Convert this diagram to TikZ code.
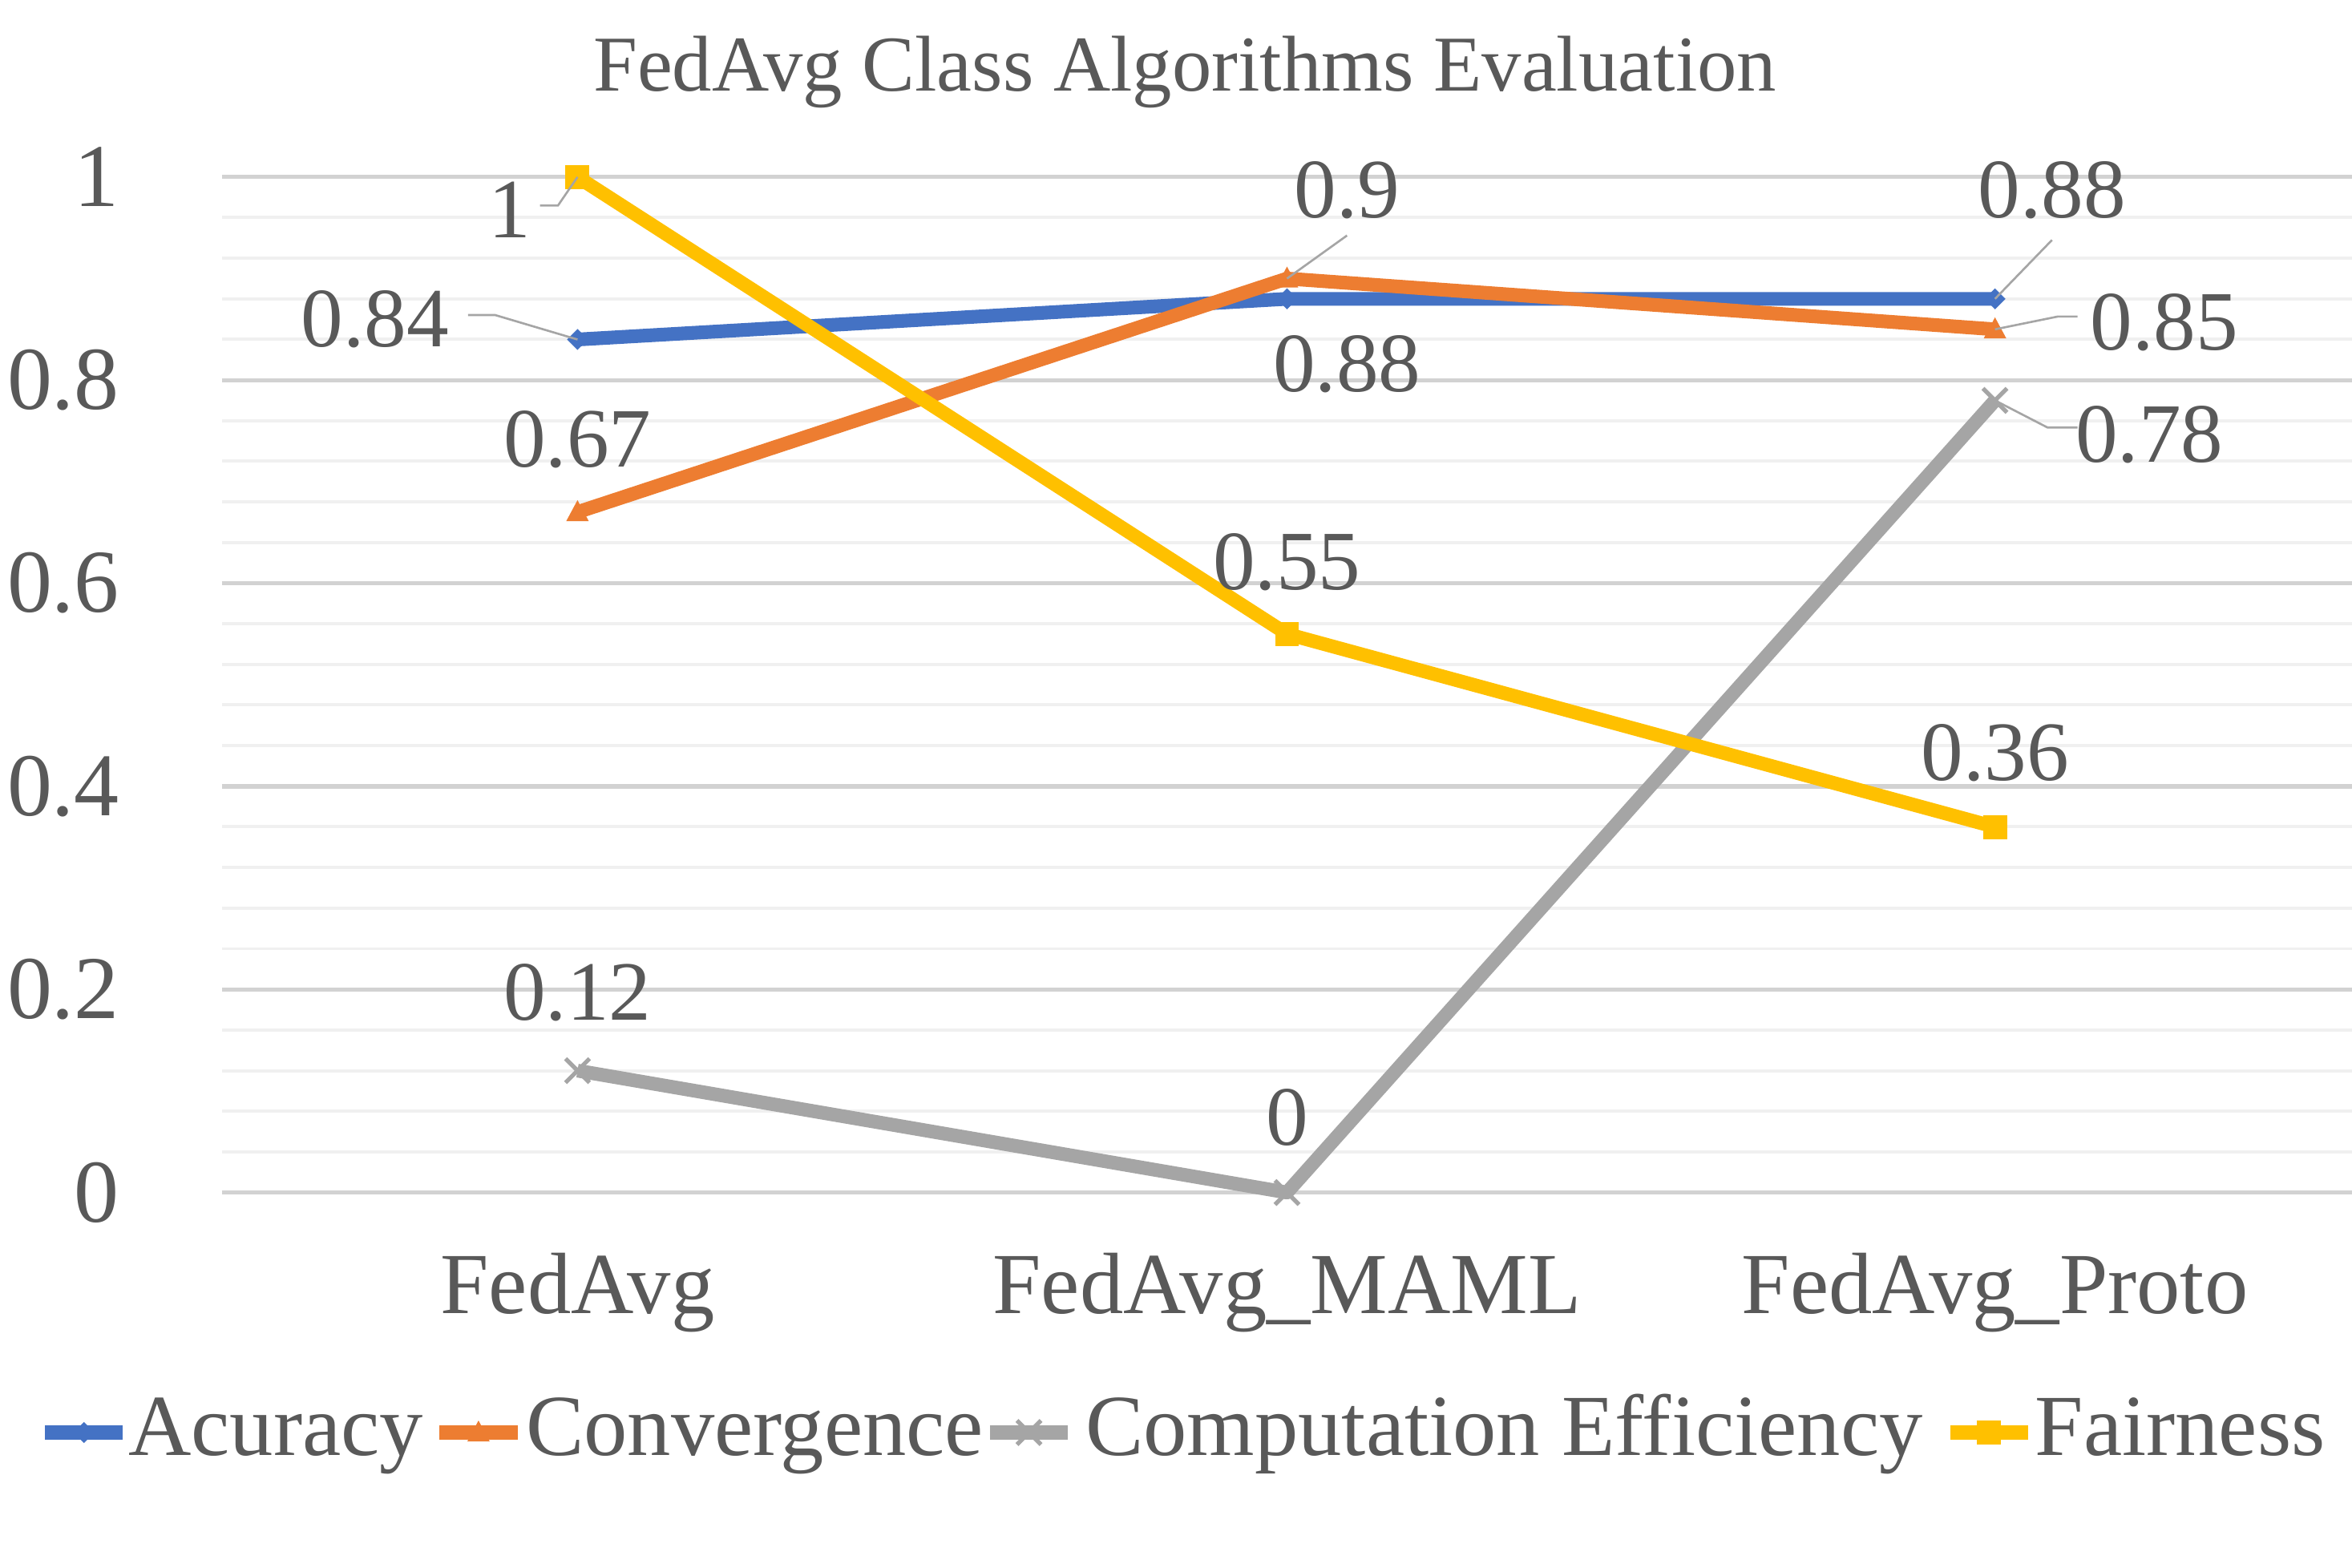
\documentclass[tikz,border=0pt]{standalone}
\usepackage{fontspec}
\setmainfont{Liberation Serif}
\usepackage{xcolor}
\usetikzlibrary{positioning}
\definecolor{acc}{HTML}{4472C4}
\definecolor{conv}{HTML}{ED7D31}
\definecolor{comp}{HTML}{A5A5A5}
\definecolor{fair}{HTML}{FFC000}
\definecolor{txt}{HTML}{595959}
\begin{document}
\begin{tikzpicture}[x=0.01cm,y=-0.01cm,
    series/.style={line width=2.6pt,line join=round},
    lbl/.style={font=\fontsize{16}{16}\selectfont,text=txt,inner sep=0pt},
    leader/.style={draw=comp,thin}]
  \useasboundingbox (0,0) rectangle (1568,1045);
  % grid
  \foreach \v in {0.04,0.08,...,0.99} \draw[gray!12,line width=0.6pt] (148,{795-677*\v}) -- (1568,{795-677*\v});
  \foreach \v in {0,0.2,...,1.0} \draw[gray!35,line width=0.8pt] (148,{795-677*\v}) -- (1568,{795-677*\v});
  \foreach \v/\t in {0/0,0.2/0.2,0.4/0.4,0.6/0.6,0.8/0.8,1/1}
    \node[font=\fontsize{17}{17}\selectfont,text=txt,anchor=east] at (92,{795-677*\v}) {\t};
  \node[font=\fontsize{15}{15}\selectfont,text=txt] (title) at (790,48) {FedAvg Class Algorithms Evaluation};
  \foreach \x/\t in {385/FedAvg,858/FedAvg\_MAML,1330/FedAvg\_Proto}
    \node[font=\fontsize{16.5}{16.5}\selectfont,text=txt] at (\x,862) {\t};
  % points
  \foreach \s/\a/\b/\c in {a/0.84/0.88/0.88,o/0.67/0.9/0.85,g/0.12/0/0.78,y/1/0.55/0.36}{
    \coordinate (\s1) at (385,{795-677*\a});
    \coordinate (\s2) at (858,{795-677*\b});
    \coordinate (\s3) at (1330,{795-677*\c});
  }
  % series
  \draw[series,comp] (g1) -- (g2) -- (g3);
  \foreach \p in {g1,g2,g3} \draw[comp,thick] (\p) +(-8,-8) -- +(8,8) (\p) +(-8,8) -- +(8,-8);
  \draw[series,acc] (a1) -- (a2) -- (a3);
  \foreach \p in {a1,a2,a3} \fill[acc] (\p) +(0,-7) -- +(7,0) -- +(0,7) -- +(-7,0) -- cycle;
  \draw[series,conv] (o1) -- (o2) -- (o3);
  \foreach \p in {o1,o2,o3} \fill[conv] (\p) +(0,-8) -- +(7.5,6) -- +(-7.5,6) -- cycle;
  \draw[series,fair] (y1) -- (y2) -- (y3);
  \foreach \p in {y1,y2,y3} \fill[fair] (\p) +(-8,-8) rectangle +(8,8);
  % data labels
  \node[lbl] (ly1) at (340,140) {1};
  \node[lbl] (la1) at (250,213) {0.84};
  \node[lbl] (lo1) at (385,293) {0.67};
  \node[lbl] (lg1) at (385,662) {0.12};
  \node[lbl] (lo2) at (898,127) {0.9};
  \node[lbl] (la2) at (898,243) {0.88};
  \node[lbl] (ly2) at (858,375) {0.55};
  \node[lbl] (lg2) at (858,745) {0};
  \node[lbl] (la3) at (1368,127) {0.88};
  \node[lbl] (lo3) at (1443,215) {0.85};
  \node[lbl] (lg3) at (1433,290) {0.78};
  \node[lbl] (ly3) at (1330,502) {0.36};
  \draw[leader] (360,137) -- (372,137) -- (y1);
  \draw[leader] (312,210) -- (330,210) -- (a1);
  \draw[leader] (898,157) -- (o2);
  \draw[leader] (1368,160) -- (a3);
  \draw[leader] (1385,211) -- (1372,211) -- (o3);
  \draw[leader] (1385,285) -- (1365,285) -- (g3);
  % legend
  \foreach \x/\c/\n/\tx/\t in {30/acc/la/85/Acuracy,293/conv/lo/350/Convergence,660/comp/lg/723/Computation Efficiency,1300/fair/ly/1356/Fairness}{
    \draw[series,\c] (\x,955) -- ++(52,0) coordinate (\n m);
    \node[font=\fontsize{16.5}{16.5}\selectfont,text=txt,anchor=base west,inner sep=0pt] (\n leg) at (\tx,970) {\t};
  }
  \fill[acc] (56,948) -- (63,955) -- (56,962) -- (49,955) -- cycle;
  \fill[conv] (319,947) -- (326.5,961) -- (311.5,961) -- cycle;
  \draw[comp,thick] (678,947) -- (694,963) (678,963) -- (694,947);
  \fill[fair] (1318,947) rectangle (1334,963);
\end{tikzpicture}
\end{document}
